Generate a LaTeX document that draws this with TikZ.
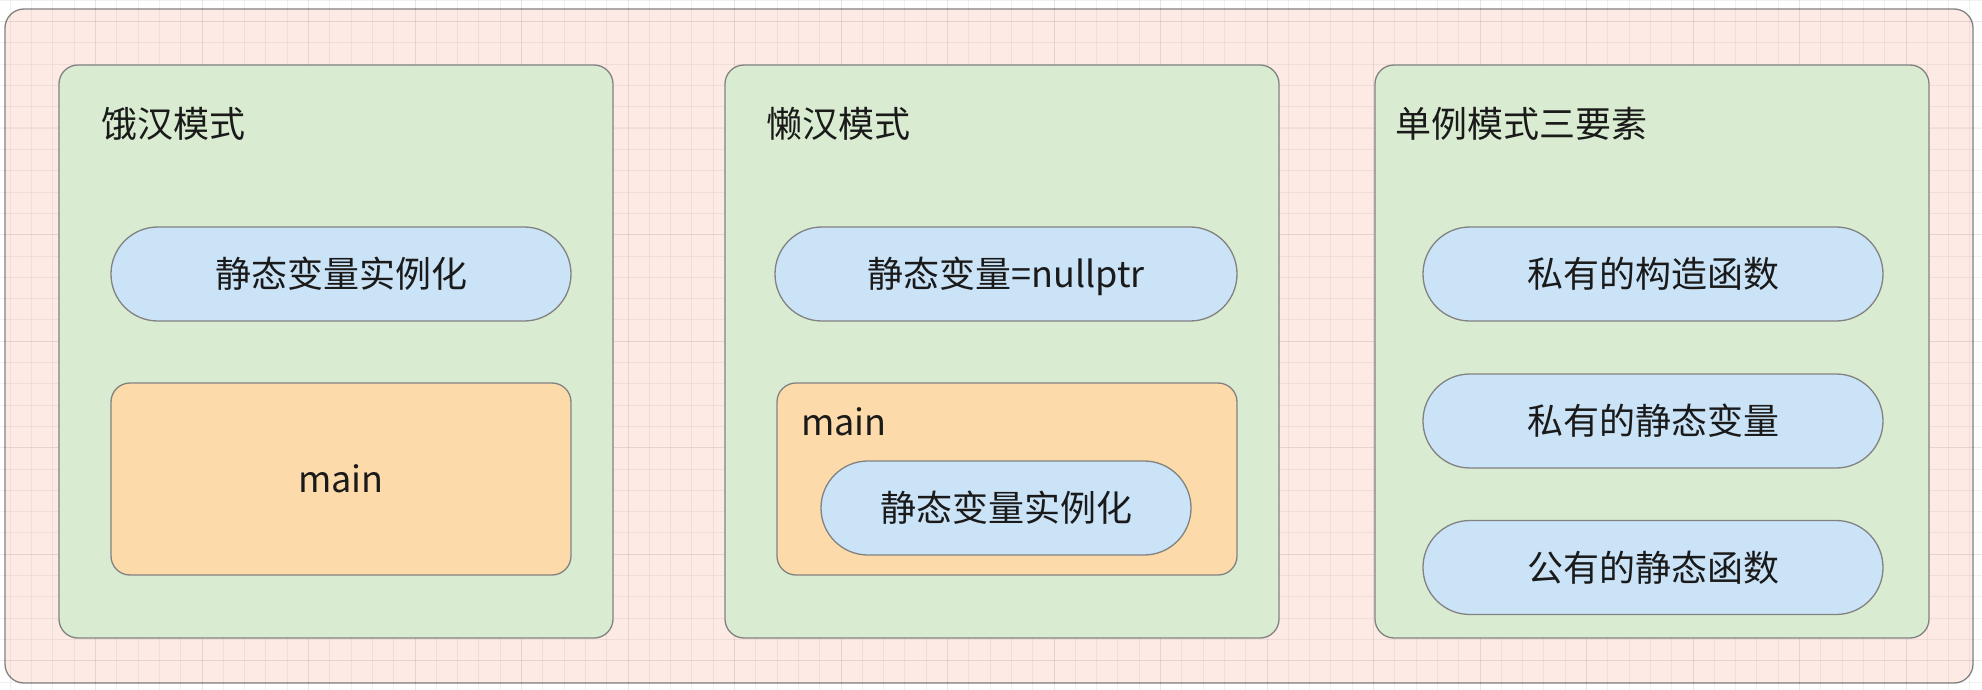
\documentclass[tikz,border=0pt]{standalone}
\usepackage{fontspec}
\setmainfont{Noto Sans CJK SC}
\definecolor{pinkbg}{RGB}{253,234,228}
\definecolor{greenbg}{RGB}{217,235,208}
\definecolor{bluebg}{RGB}{203,227,247}
\definecolor{orangebg}{RGB}{253,218,170}
\definecolor{edge}{RGB}{130,130,130}
\definecolor{ink}{RGB}{26,26,26}
\tikzset{
  box/.style={draw=edge, line width=1.3pt, rounded corners=19pt, inner sep=0pt, outer sep=0pt},
  outerbox/.style={box, fill=pinkbg},
  groupbox/.style={box, fill=greenbg, minimum width=554pt, minimum height=573pt},
  pill/.style={box, fill=bluebg, rounded corners=46.9pt, minimum height=94pt, minimum width=460pt,
    font=\fontsize{36}{40}\selectfont, text=ink, text height=30pt, text depth=3pt},
  mainbox/.style={box, fill=orangebg, minimum width=460pt, minimum height=192pt,
    font=\fontsize{36}{40}\selectfont, text=ink, text height=30pt, text depth=3pt},
  title/.style={anchor=west, inner sep=0pt, font=\fontsize{36}{40}\selectfont, text=ink, text height=30pt, text depth=3pt},
}
\begin{document}
\begin{tikzpicture}[x=1pt, y=-1pt]
\useasboundingbox (0,0) rectangle (1982,690);
\fill[white] (0,0) rectangle (1982,690);
% outer container
\node[outerbox, minimum width=1968pt, minimum height=674pt] (outer) at (989,346) {};
% grid
\foreach \k in {0,...,94} {
  \draw[black, opacity=0.055, line width=1pt] ({-11+21.3*\k},0) -- ({-11+21.3*\k},690);
}
\foreach \k in {0,...,33} {
  \draw[black, opacity=0.055, line width=1pt] (0,{0.4+21.3*\k}) -- (1982,{0.4+21.3*\k});
}
\foreach \k in {0,...,19} {
  \draw[black, opacity=0.04, line width=1pt] ({-11+106.5*\k},0) -- ({-11+106.5*\k},690);
}
\foreach \k in {0,...,6} {
  \draw[black, opacity=0.04, line width=1pt] (0,{21.5+106.5*\k}) -- (1982,{21.5+106.5*\k});
}
% group 1: 饿汉模式
\node[groupbox] (g1) at (336,351.5) {};
\node[title] (t1) at (101,124) {饿汉模式};
\node[pill] (p1) at (341,274) {静态变量实例化};
\node[mainbox] (m1) at (341,479) {main};
% group 2: 懒汉模式
\node[groupbox] (g2) at (1002,351.5) {};
\node[title] (t2) at (766,124) {懒汉模式};
\node[pill, minimum width=462pt] (p2) at (1006,274) {静态变量=nullptr};
\node[mainbox] (m2) at (1007,479) {};
\node[anchor=base west, inner sep=0pt, font=\fontsize{36}{40}\selectfont, text=ink] (m2l) at (801,435) {main};
\node[pill, minimum width=370pt] (p3) at (1006,508) {静态变量实例化};
% group 3: 单例模式三要素
\node[groupbox] (g3) at (1652,351.5) {};
\node[title] (t3) at (1395,124) {单例模式三要素};
\node[pill] (q1) at (1653,274) {私有的构造函数};
\node[pill] (q2) at (1653,421) {私有的静态变量};
\node[pill] (q3) at (1653,567.5) {公有的静态函数};
\end{tikzpicture}
\end{document}
